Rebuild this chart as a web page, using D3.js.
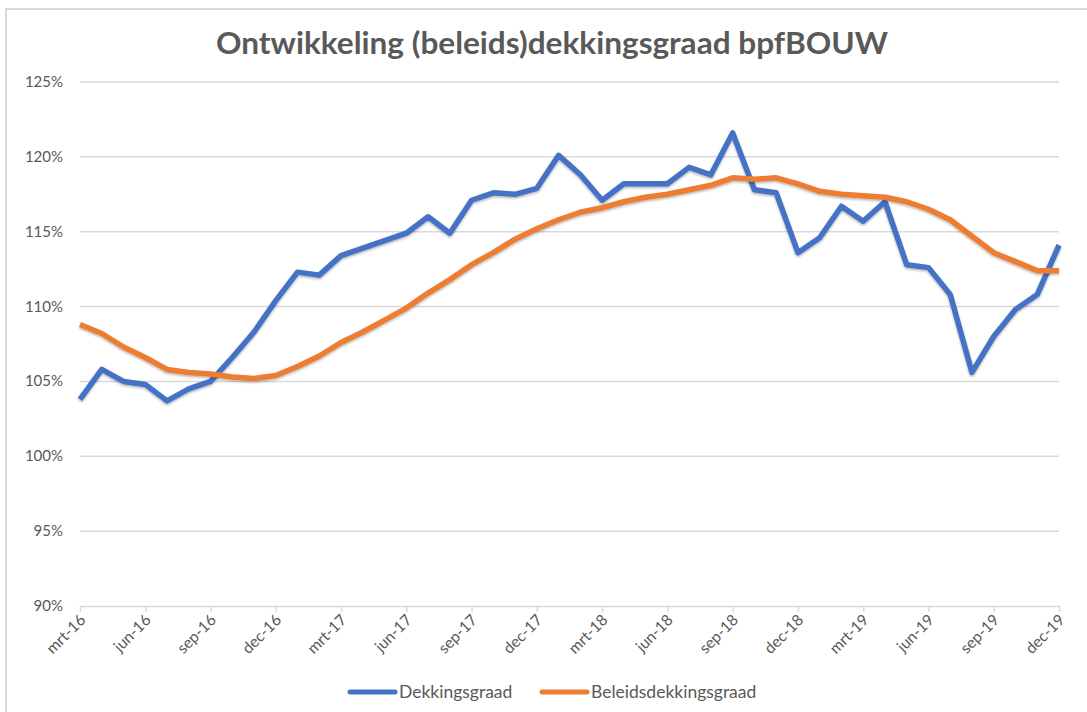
<!DOCTYPE html>
<html>
<head>
<meta charset="utf-8">
<script src="https://cdn.jsdelivr.net/npm/d3@7"></script>
<style>
  body { margin: 0; background: #fff; }
  svg { font-family: Lato, "Open Sans", sans-serif; }
</style>
</head>
<body>
<div id="chart"></div>
<script>
// month labels, mrt-16 .. dec-19 (one per month)
var months = [
  "mrt-16","apr-16","mei-16","jun-16","jul-16","aug-16","sep-16","okt-16","nov-16","dec-16",
  "jan-17","feb-17","mrt-17","apr-17","mei-17","jun-17","jul-17","aug-17","sep-17","okt-17","nov-17","dec-17",
  "jan-18","feb-18","mrt-18","apr-18","mei-18","jun-18","jul-18","aug-18","sep-18","okt-18","nov-18","dec-18",
  "jan-19","feb-19","mrt-19","apr-19","mei-19","jun-19","jul-19","aug-19","sep-19","okt-19","nov-19","dec-19"
];

var dekkingsgraad = [
  103.8, 105.8, 105.0, 104.8, 103.7, 104.5, 105.0, 106.6, 108.3, 110.4,
  112.3, 112.1, 113.4, 113.9, 114.4, 114.9, 116.0, 114.9, 117.1, 117.6, 117.5, 117.9,
  120.1, 118.8, 117.1, 118.2, 118.2, 118.2, 119.3, 118.8, 121.6, 117.8, 117.6, 113.6,
  114.6, 116.7, 115.7, 117.0, 112.8, 112.6, 110.8, 105.6, 108.0, 109.8, 110.8, 114.1
];

var beleidsdekkingsgraad = [
  108.8, 108.2, 107.3, 106.6, 105.8, 105.6, 105.5, 105.3, 105.2, 105.4,
  106.0, 106.7, 107.6, 108.3, 109.1, 109.9, 110.9, 111.8, 112.8, 113.6, 114.5, 115.2,
  115.8, 116.3, 116.6, 117.0, 117.3, 117.5, 117.8, 118.1, 118.6, 118.5, 118.6, 118.2,
  117.7, 117.5, 117.4, 117.3, 117.0, 116.5, 115.8, 114.7, 113.6, 113.0, 112.4, 112.4
];

var yTicks = [90, 95, 100, 105, 110, 115, 120, 125];
var seriesNames = ["Dekkingsgraad", "Beleidsdekkingsgraad"];
var colors = ["#4472C4", "#ED7D31"];

var width = 1087, height = 712;
var margin = { top: 82, right: 28, bottom: 106, left: 80 };

var svg = d3.select("#chart").append("svg")
    .attr("width", width)
    .attr("height", height);

// outer frame of the chart
svg.append("rect")
    .attr("x", 6).attr("y", 9)
    .attr("width", width + 10).attr("height", height + 10)
    .attr("fill", "none")
    .attr("stroke", "#d9d9d9")
    .attr("stroke-width", 2);

// soft shadow on the lines
var defs = svg.append("defs");
var f = defs.append("filter").attr("id", "shadow")
    .attr("x", "-5%").attr("y", "-5%").attr("width", "110%").attr("height", "110%");
f.append("feDropShadow")
    .attr("dx", 0).attr("dy", 1.5)
    .attr("stdDeviation", 1.2)
    .attr("flood-color", "#000")
    .attr("flood-opacity", 0.3);

var x = d3.scalePoint()
    .domain(months)
    .range([margin.left, width - margin.right]);

var y = d3.scaleLinear()
    .domain([90, 125])
    .range([height - margin.bottom, margin.top]);

// title
svg.append("text")
    .attr("x", 552).attr("y", 54)
    .attr("text-anchor", "middle")
    .attr("font-size", 31)
    .attr("font-weight", "bold")
    .attr("fill", "#595959")
    .attr("textLength", 672)
    .attr("lengthAdjust", "spacingAndGlyphs")
    .text("Ontwikkeling (beleids)dekkingsgraad bpfBOUW");

// gridlines
svg.append("g")
    .selectAll("line")
    .data(yTicks.filter(d => d > 90))
    .enter().append("line")
    .attr("x1", margin.left)
    .attr("x2", width - margin.right)
    .attr("y1", d => y(d))
    .attr("y2", d => y(d))
    .attr("stroke", "#d9d9d9")
    .attr("stroke-width", 1.5);

// y labels
svg.append("g")
    .selectAll("text")
    .data(yTicks)
    .enter().append("text")
    .attr("x", 63)
    .attr("y", d => y(d) + 5)
    .attr("text-anchor", "end")
    .attr("font-size", 15)
    .attr("fill", "#595959")
    .text(d => d + "%");

// x axis, tick every 3 months
var xAxis = d3.axisBottom(x)
    .tickValues(months.filter((m, i) => i % 3 == 0))
    .tickSize(6)
    .tickSizeOuter(0);

var gx = svg.append("g")
    .attr("transform", "translate(0," + y(90) + ")")
    .call(xAxis);

gx.select(".domain").attr("stroke", "#d9d9d9").attr("stroke-width", 1.5);
gx.selectAll(".tick line").attr("stroke", "#d9d9d9").attr("stroke-width", 1.5);
gx.selectAll(".tick text")
    .attr("font-family", "Lato, 'Open Sans', sans-serif")
    .attr("font-size", 15.5)
    .attr("fill", "#595959")
    .attr("text-anchor", "end")
    .attr("dy", 0)
    .attr("transform", "translate(6,15) rotate(-45)")
    .attr("y", 0).attr("x", 0);

// lines
var line = d3.line()
    .x((d, i) => x(months[i]))
    .y(d => y(d));

[dekkingsgraad, beleidsdekkingsgraad].forEach(function(data, k)
{
    svg.append("path")
        .datum(data)
        .attr("fill", "none")
        .attr("stroke", colors[k])
        .attr("stroke-width", 5.5)
        .attr("stroke-linejoin", "round")
        .attr("filter", "url(#shadow)")
        .attr("d", line);
});

// legend
var legendX = [350, 542];
var legend = svg.append("g");
seriesNames.forEach(function(name, k)
{
    legend.append("line")
        .attr("x1", legendX[k]).attr("x2", legendX[k] + 45)
        .attr("y1", 692).attr("y2", 692)
        .attr("stroke", colors[k])
        .attr("stroke-width", 5)
        .attr("stroke-linecap", "round");
    legend.append("text")
        .attr("x", legendX[k] + 49)
        .attr("y", 698)
        .attr("font-size", 17.5)
        .attr("fill", "#595959")
        .text(name);
});
</script>
</body>
</html>
